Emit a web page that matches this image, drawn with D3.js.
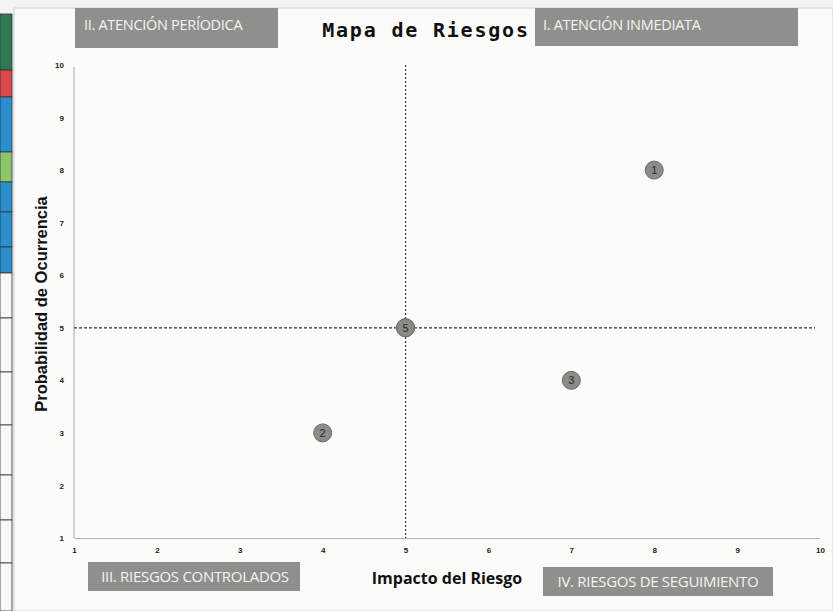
<!DOCTYPE html>
<html>
<head>
<meta charset="utf-8">
<script src="https://cdnjs.cloudflare.com/ajax/libs/d3/7.8.5/d3.min.js"></script>
<style>
  body { margin: 0; background: #f3f3f1; }
  svg { display: block; }
</style>
</head>
<body>
<div class="chart"></div>
<script>
var svgWidth = 833;
var svgHeight = 611;

// riesgos
var riskIds = ["1", "2", "3", "4", "5"];
var impacto = [8, 4, 7, 5, 5];
var probabilidad = [8, 3, 4, 5, 5];

var xTicks = [1, 2, 3, 4, 5, 6, 7, 8, 9, 10];
var yTicks = [1, 2, 3, 4, 5, 6, 7, 8, 9, 10];

var quadrantNames = ["I. ATENCIÓN INMEDIATA", "II. ATENCIÓN PERÍODICA", "III. RIESGOS CONTROLADOS", "IV. RIESGOS DE SEGUIMIENTO"];

// strip of the spreadsheet seen at the left edge of the photo
var stripColors = ["#2f7a55", "#d9484c", "#2a8fd0", "#8cc56a", "#2a8fd0", "#2a8fd0", "#2a8fd0", "#f7f7f7", "#f7f7f7", "#f7f7f7", "#f7f7f7", "#f7f7f7", "#f7f7f7", "#f7f7f7"];
var stripBreaks = [14, 70, 97, 152, 182, 212, 247, 273, 318, 372, 425, 475, 520, 563, 611];

var margin = { top: 65, right: 13, bottom: 73, left: 74 };
var chartWidth = svgWidth - margin.left - margin.right;
var chartHeight = svgHeight - margin.top - margin.bottom;

var svg = d3.select(".chart")
  .append("svg")
  .attr("width", svgWidth)
  .attr("height", svgHeight);

// paper
svg.append("rect")
  .attr("x", 14).attr("y", 8)
  .attr("width", svgWidth - 14).attr("height", svgHeight - 8)
  .attr("fill", "#fbfbfa")
  .attr("stroke", "#cfcfcf");

svg.selectAll(".strip")
  .data(stripColors)
  .enter().append("rect")
    .attr("class", "strip")
    .attr("x", 0)
    .attr("y", function(d, i) { return stripBreaks[i]; })
    .attr("width", 12)
    .attr("height", function(d, i) { return stripBreaks[i + 1] - stripBreaks[i]; })
    .attr("fill", function(d) { return d; })
    .attr("stroke", "#333")
    .attr("stroke-width", 0.8);

var chart = svg.append("g")
  .attr("transform", `translate(${margin.left}, ${margin.top})`);

var xScale = d3.scaleLinear().domain([1, 10]).range([0, chartWidth]);
var yScale = d3.scaleLinear().domain([1, 10]).range([chartHeight, 0]);

var bottomAxis = d3.axisBottom(xScale).tickValues(xTicks).tickSize(0).tickPadding(9).tickFormat(d3.format("d"));
var leftAxis = d3.axisLeft(yScale).tickValues(yTicks).tickSize(0).tickPadding(10).tickFormat(d3.format("d"));

var xAxisG = chart.append("g")
  .attr("transform", `translate(0, ${chartHeight})`)
  .call(bottomAxis);
var yAxisG = chart.append("g").call(leftAxis);

[xAxisG, yAxisG].forEach(function(g) {
  g.select(".domain").attr("stroke", "#b5b5b5").attr("stroke-width", 1.2);
  g.selectAll("text")
    .attr("font-family", "Liberation Sans, Arial, sans-serif")
    .attr("font-size", 8)
    .attr("font-weight", "bold")
    .attr("fill", "#222");
});
yAxisG.select(".domain").attr("d", `M0,${yScale(10) + 2}V${chartHeight}`);

// cuadrantes
chart.append("line")
  .attr("x1", xScale(5)).attr("x2", xScale(5))
  .attr("y1", yScale(10)).attr("y2", yScale(1))
  .attr("stroke", "#333").attr("stroke-width", 1.2)
  .attr("stroke-dasharray", "2,2");
chart.append("line")
  .attr("x1", xScale(1)).attr("x2", xScale(10) - 5)
  .attr("y1", yScale(5)).attr("y2", yScale(5))
  .attr("stroke", "#333").attr("stroke-width", 1.2)
  .attr("stroke-dasharray", "3,2");

var points = riskIds.map(function(id, i) {
  return { id: id, x: impacto[i], y: probabilidad[i] };
});

var dots = chart.selectAll(".risk")
  .data(points)
  .enter().append("g")
    .attr("class", "risk")
    .attr("transform", function(d) { return `translate(${xScale(d.x)}, ${yScale(d.y)})`; });

dots.append("circle")
  .attr("r", 9)
  .attr("fill", "#8c8c86")
  .attr("stroke", "#6a6a66")
  .attr("stroke-width", 1);

dots.append("text")
  .attr("text-anchor", "middle")
  .attr("dy", "0.36em")
  .attr("font-family", "Liberation Sans, Arial, sans-serif")
  .attr("font-size", 11)
  .attr("fill", "#2a2a2a")
  .text(function(d) { return d.id; });

// cajas de los cuadrantes
var boxes = [
  { name: quadrantNames[1], x: 75, y: 8, w: 203, h: 40, tx: 84, ty: 30, size: 14.5, anchor: "start" },
  { name: quadrantNames[0], x: 535, y: 8, w: 263, h: 38, tx: 543, ty: 30, size: 14.5, anchor: "start" },
  { name: quadrantNames[2], x: 88, y: 562, w: 212, h: 29, tx: 195, ty: 582, size: 15, anchor: "middle" },
  { name: quadrantNames[3], x: 543, y: 567, w: 230, h: 29, tx: 658, ty: 587, size: 15, anchor: "middle" }
];

var boxG = svg.selectAll(".qbox")
  .data(boxes)
  .enter().append("g")
    .attr("class", "qbox");

boxG.append("rect")
  .attr("x", function(d) { return d.x; })
  .attr("y", function(d) { return d.y; })
  .attr("width", function(d) { return d.w; })
  .attr("height", function(d) { return d.h; })
  .attr("fill", "#8f8f8c");

boxG.append("text")
  .attr("x", function(d) { return d.tx; })
  .attr("y", function(d) { return d.ty; })
  .attr("text-anchor", function(d) { return d.anchor; })
  .attr("font-family", "Open Sans, Liberation Sans, sans-serif")
  .attr("font-size", function(d) { return d.size; })
  .attr("letter-spacing", -0.3)
  .attr("fill", "#f4f4f4")
  .text(function(d) { return d.name; });

svg.append("text")
  .attr("x", 426)
  .attr("y", 37)
  .attr("text-anchor", "middle")
  .attr("font-family", "DejaVu Sans Mono, monospace")
  .attr("font-size", 20)
  .attr("font-weight", "bold")
  .attr("letter-spacing", 1.8)
  .attr("fill", "#111")
  .text("Mapa de Riesgos");

svg.append("text")
  .attr("x", 447)
  .attr("y", 584)
  .attr("text-anchor", "middle")
  .attr("font-family", "Open Sans, Liberation Sans, sans-serif")
  .attr("font-size", 16)
  .attr("font-weight", "bold")
  .attr("fill", "#111")
  .text("Impacto del Riesgo");

svg.append("text")
  .attr("transform", "translate(47, 304) rotate(-90)")
  .attr("text-anchor", "middle")
  .attr("font-family", "Liberation Sans, Arial, sans-serif")
  .attr("font-size", 16.5)
  .attr("font-weight", "bold")
  .attr("fill", "#111")
  .text("Probabilidad de Ocurrencia");
</script>
</body>
</html>
